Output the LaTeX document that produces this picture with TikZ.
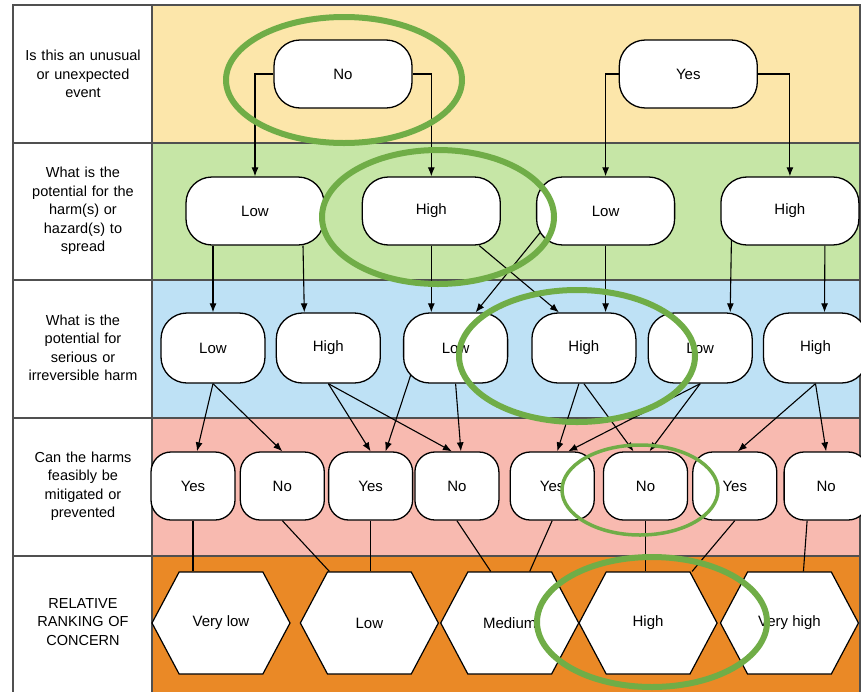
\documentclass[tikz,border=0pt]{standalone}
\usepackage{fontspec}
\setmainfont{Liberation Sans}
\usepackage{tikz}
\usetikzlibrary{shapes,arrows,arrows.meta,positioning,backgrounds}
\definecolor{yellow}{RGB}{252, 230, 170}
\definecolor{green}{RGB}{198, 230, 166}
\definecolor{blue}{RGB}{190, 225, 245}
\definecolor{pink}{RGB}{248, 186, 176}
\definecolor{orange}{RGB}{234, 137, 38}
\definecolor{ring}{RGB}{112, 173, 71}
\definecolor{grid}{RGB}{80, 80, 80}
\tikzstyle{choice} = [rectangle, rounded corners=26pt, draw=black, line width=1.3pt, fill=white, text=black, text centered, font=\fontsize{15}{18}\selectfont, minimum height=68pt, inner sep=0pt]
\tikzstyle{wide} = [choice, minimum width=138pt]
\tikzstyle{mid} = [choice, minimum width=104pt, minimum height=70pt]
\tikzstyle{narrow} = [choice, rounded corners=20pt, minimum width=84pt]
\tikzstyle{rank} = [signal, signal to=east and west, signal pointer angle=124, draw=black, line width=1.2pt, fill=white, text=black, font=\fontsize{15}{18}\selectfont, minimum width=138pt, minimum height=102pt, inner sep=0pt]
\tikzstyle{question} = [text width=135pt, align=center, font=\fontsize{14.5}{18.5}\selectfont]
\tikzstyle{band} = [draw=grid, line width=1.5pt]
\tikzstyle{tedge} = [draw, line width=1.1pt, >={Latex[length=9pt, width=7pt]}, ->]
\tikzstyle{tline} = [draw, line width=1.1pt]
\tikzstyle{ringmark} = [draw=ring, line width=6pt]

\begin{document}
\begin{tikzpicture}[x=1pt, y=1pt]
\useasboundingbox (0,0) rectangle (861,-691);

% questions =============================
\node[question] (q1) at (83,-74) {Is this an unusual\\or unexpected\\event};
\node[question] (q2) at (83,-211) {What is the\\potential for the\\harm(s) or\\hazard(s) to\\spread};
\node[question] (q3) at (83,-348) {What is the\\potential for\\serious or\\irreversible harm};
\node[question] (q4) at (83,-486) {Can the harms\\feasibly be\\mitigated or\\prevented};
\node[question] (q5) at (83,-622) {RELATIVE\\RANKING OF\\CONCERN};

% unusual event
\node[wide] (no) at (343,-74) {No};
\node[wide, right=206pt of no] (yes) {Yes};

% spread
\node[wide] (lowS1) at (255,-211) {Low};
\node[wide, right=37pt of lowS1] (highS1) {High};
\node[wide, right=35pt of highS1] (lowS2) {Low};
\node[wide, right=45pt of lowS2] (highS2) {High};

% serious harm
\node[mid] (lowH1) at (213,-348) {Low};
\node[mid, right=10pt of lowH1] (highH1) {High};
\node[mid, right=22pt of highH1] (lowH2) {Low};
\node[mid, right=23pt of lowH2] (highH2) {High};
\node[mid, right=11pt of highH2] (lowH3) {Low};
\node[mid, right=10pt of lowH3] (highH3) {High};

% mitigated
\node[narrow] (yesM1) at (193,-486) {Yes};
\node[narrow, right=4pt of yesM1] (noM1) {No};
\node[narrow, right=3pt of noM1] (yesM2) {Yes};
\node[narrow, right=1pt of yesM2] (noM2) {No};
\node[narrow, right=10pt of noM2] (yesM3) {Yes};
\node[narrow, right=8pt of yesM3] (noM3) {No};
\node[narrow, right=4pt of noM3] (yesM4) {Yes};
\node[narrow, right=6pt of yesM4] (noM4) {No};

% ranking
\node[rank] (vlow) at (221,-623) {Very low};
\node[rank, right=9pt of vlow] (low) {Low};
\node[rank, right=1pt of low] (medium) {Medium};
\node[rank, right=-1pt of medium] (high) {High};
\node[rank, right=2pt of high] (vhigh) {Very high};

% marks
\draw[ringmark] (344,-80) ellipse (118 and 63);
\draw[ringmark] (438,-217) ellipse (116 and 67);
\draw[ringmark] (577,-356) ellipse (118 and 66);
\draw[ringmark, line width=3.5pt] (640,-490) ellipse (78 and 45);
\draw[ringmark] (652,-622) ellipse (115 and 65);

\begin{scope}[on background layer]
% rows
\draw[band, fill=white] (13,-5) rectangle (152,-143);
\draw[band, fill=white] (13,-143) rectangle (152,-280);
\draw[band, fill=white] (13,-280) rectangle (152,-418);
\draw[band, fill=white] (13,-418) rectangle (152,-556);
\draw[band, fill=white] (13,-556) rectangle (152,-700);
\draw[band, fill=yellow] (152,-5) rectangle (860,-143);
\draw[band, fill=green] (152,-143) rectangle (860,-280);
\draw[band, fill=blue] (152,-280) rectangle (860,-418);
\draw[band, fill=pink] (152,-418) rectangle (860,-556);
\draw[band, fill=orange] (152,-556) rectangle (860,-700);

%edges
\path[tedge] (no.west) -| (lowS1.north);
\path[tedge] (no.east) -| (highS1.north);
\path[tedge] (yes.west) -| (lowS2.north);
\path[tedge] (yes.east) -| (highS2.north);

\path[tedge] (lowH1 |- lowS1.south) -- (lowH1.north);
\path[tedge] ([xshift=48pt]lowS1.south) -- ([xshift=-24pt]highH1.north);
\path[tedge] (highS1.south) -- (highS1.south |- lowH2.north);
\path[tedge] ([xshift=48pt]highS1.south) -- ([xshift=-25pt]highH2.north);
\path[tedge] ([xshift=-48pt]lowS2.center) -- ([xshift=20pt]lowH2.north);
\path[tedge] (lowS2.south) -- (lowS2.south |- highH2.north);
\path[tedge] ([xshift=-58pt]highS2.center) -- ([xshift=30pt]lowH3.north);
\path[tedge] ([xshift=35pt]highS2.south) -- ([xshift=9pt]highH3.north);

\path[tedge] (lowH1.south) -- ([xshift=4pt]yesM1.north);
\path[tedge] (lowH1.south) -- (noM1.north);
\path[tedge] (highH1.south) -- (yesM2.north);
\path[tedge] (highH1.south) -- ([xshift=-5pt]noM2.north);
\path[tedge] ([xshift=-36pt]lowH2.center) -- ([xshift=15pt]yesM2.north);
\path[tedge] (lowH2.south) -- ([xshift=4pt]noM2.north);
\path[tedge] ([xshift=-5pt]highH2.south) -- ([xshift=5pt]yesM3.north);
\path[tedge] (highH2.south) -- ([xshift=-12pt]noM3.north);
\path[tedge] (lowH3.south) -- ([xshift=16pt]yesM3.north);
\path[tedge] (lowH3.south) -- ([xshift=4pt]noM3.north);
\path[tedge] (highH3.south) -- ([xshift=3pt]yesM4.north);
\path[tedge] (highH3.south) -- (noM4.north);

\path[tline] (yesM1.south) -- (yesM1.south |- vlow.north);
\path[tline] (noM1.south) -- ([xshift=-40pt]low.north);
\path[tline] (yesM2.south) -- (yesM2.south |- low.north);
\path[tline] (noM2.south) -- ([xshift=-19pt]medium.north);
\path[tline] (yesM3.south) -- ([xshift=20pt]medium.north);
\path[tline] (noM3.south) -- (noM3.south |- high.north);
\path[tline] (yesM4.south) -- ([xshift=44pt]high.north);
\path[tline] ([xshift=-19pt]noM4.south) -- ([xshift=14pt]vhigh.north);
\end{scope}

\end{tikzpicture}
\end{document}
